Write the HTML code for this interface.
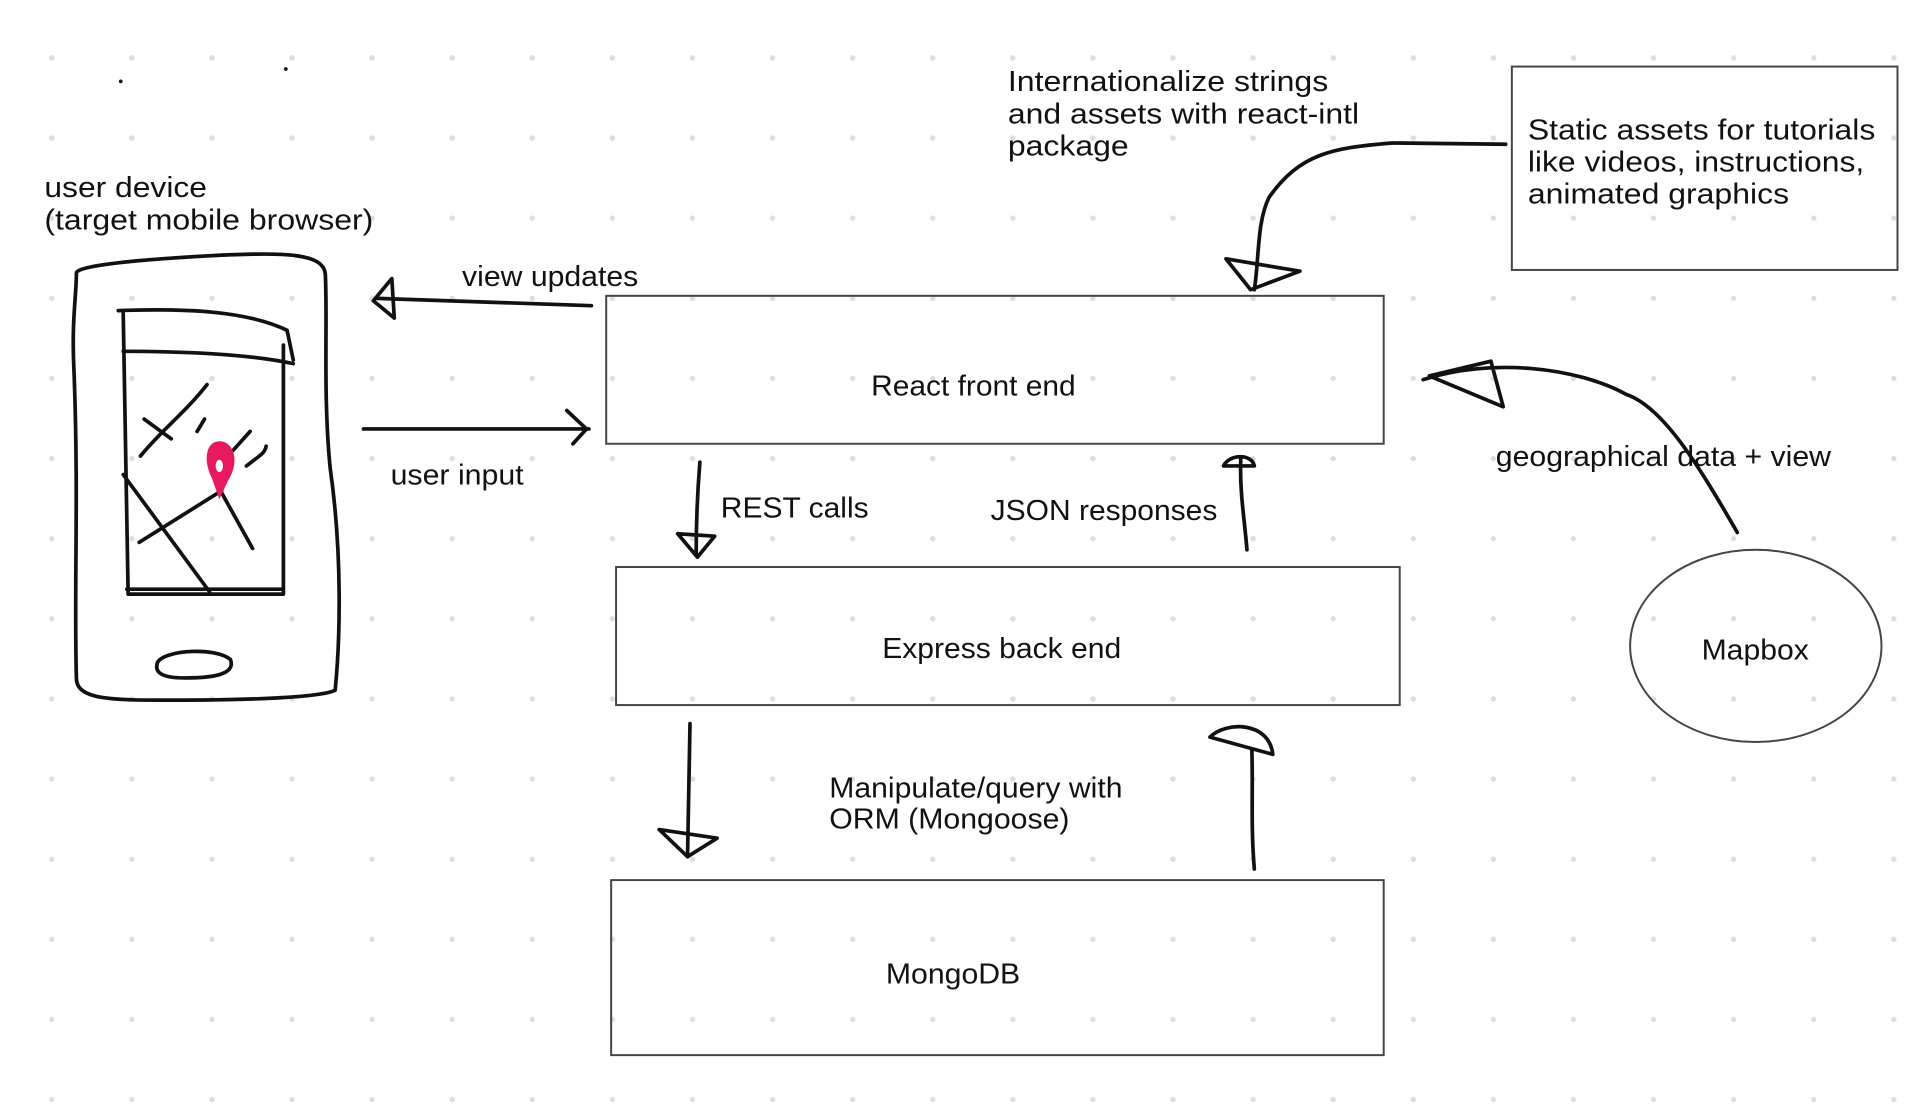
<!DOCTYPE html>
<html><head><meta charset="utf-8"><style>
html,body{margin:0;padding:0;background:#fff}
svg{display:block}
text{font-family:"Liberation Sans",sans-serif;fill:#111}
</style></head><body>
<svg width="1932" height="1118" viewBox="0 0 1568 907" preserveAspectRatio="none" xmlns="http://www.w3.org/2000/svg">
<defs><pattern id="d" x="39" y="44" width="65" height="65" patternUnits="userSpaceOnUse"><circle cx="3" cy="3" r="2.2" fill="#ddd"/></pattern></defs>
<rect width="1568" height="907" fill="#fff"/>
<rect width="1568" height="907" fill="url(#d)"/>
<g fill="none" stroke="#111" stroke-width="3" stroke-linecap="round" stroke-linejoin="round">
<path d="M62,222 C60,215 120,210 180,207 C230,205 262,205 264,222 C266,260 262,320 268,380 C278,450 276,520 272,560 C260,566 200,568 140,568 C90,568 62,568 62,550 C60,480 64,400 60,300 C58,260 62,240 62,222"/>
<path d="M96,252 C150,250 200,252 233,268 L238,292 M100,285 C150,285 200,287 238,295 M100,254 L104,482 L230,482 L230,280 M103,478 L230,478"/>
<path d="M114,370 C130,350 150,335 168,312 M166,340 L160,350 M117,340 L139,356 M203,350 L185,370 M200,378 C210,370 215,368 216,362 M113,440 L180,398 M100,385 L170,480 M180,400 L205,445"/>
<path d="M128,537 C135,527 175,525 187,535 C192,548 170,550 150,550 C130,550 125,545 128,537 Z"/>
</g>
<path d="M178,358 C190,358 195,375 185,390 L178,405 L172,388 C164,372 168,358 178,358 Z" fill="#e8185f"/>
<ellipse cx="178" cy="378" rx="3" ry="5" fill="#fff"/>
<circle cx="98" cy="66" r="1.5" fill="#111"/><circle cx="232" cy="56" r="1.5" fill="#111"/>
<g fill="none" stroke="#444" stroke-width="1.6">
<rect x="492" y="240" width="631" height="120"/>
<rect x="500" y="460" width="636" height="112"/>
<rect x="496" y="714" width="627" height="142"/>
<rect x="1227" y="54" width="313" height="165"/>
<ellipse cx="1425" cy="524" rx="102" ry="78"/>
</g>
<g fill="none" stroke="#111" stroke-width="3" stroke-linecap="round" stroke-linejoin="round">
<path d="M480,248 L305,242 M318,226 L303,244 L320,258 Z"/>
<path d="M295,348 L478,348 M460,333 L476,348 L465,360"/>
<path d="M568,375 C566,400 565,425 565,450 M550,433 L580,435 L566,452 Z"/>
<path d="M1012,446 C1010,420 1006,400 1007,372 M993,378 C998,368 1016,368 1018,378 Z"/>
<path d="M560,587 L558,695 M535,673 L582,680 L558,695 Z"/>
<path d="M1018,705 C1015,670 1017,640 1016,608 M982,598 C995,585 1030,585 1033,612 Z"/>
<path d="M1222,117 L1130,116 C1080,120 1055,125 1030,160 C1020,180 1022,210 1018,235 M995,210 L1055,220 L1015,235 Z"/>
<path d="M1410,432 C1380,380 1350,330 1320,320 C1280,298 1210,290 1155,308 M1210,293 L1220,330 L1160,305 Z"/>
</g>
<g font-size="23" lengthAdjust="spacingAndGlyphs">
<text x="36" y="160" textLength="132" lengthAdjust="spacingAndGlyphs">user device</text>
<text x="36" y="186" textLength="267" lengthAdjust="spacingAndGlyphs">(target mobile browser)</text>
<text x="375" y="232" textLength="143" lengthAdjust="spacingAndGlyphs">view updates</text>
<text x="317" y="393" textLength="108" lengthAdjust="spacingAndGlyphs">user input</text>
<text x="818" y="74" textLength="260" lengthAdjust="spacingAndGlyphs">Internationalize strings</text>
<text x="818" y="100" textLength="285" lengthAdjust="spacingAndGlyphs">and assets with react-intl</text>
<text x="818" y="126" textLength="98" lengthAdjust="spacingAndGlyphs">package</text>
<text x="1240" y="113" textLength="282" lengthAdjust="spacingAndGlyphs">Static assets for tutorials</text>
<text x="1240" y="139" textLength="273" lengthAdjust="spacingAndGlyphs">like videos, instructions,</text>
<text x="1240" y="165" textLength="212" lengthAdjust="spacingAndGlyphs">animated graphics</text>
<text x="707" y="321" textLength="166" lengthAdjust="spacingAndGlyphs">React front end</text>
<text x="585" y="420" textLength="120" lengthAdjust="spacingAndGlyphs">REST calls</text>
<text x="804" y="422" textLength="184" lengthAdjust="spacingAndGlyphs">JSON responses</text>
<text x="1214" y="378" textLength="272" lengthAdjust="spacingAndGlyphs">geographical data + view</text>
<text x="716" y="534" textLength="194" lengthAdjust="spacingAndGlyphs">Express back end</text>
<text x="1381" y="535" textLength="87" lengthAdjust="spacingAndGlyphs">Mapbox</text>
<text x="673" y="647" textLength="238" lengthAdjust="spacingAndGlyphs">Manipulate/query with</text>
<text x="673" y="672" textLength="195" lengthAdjust="spacingAndGlyphs">ORM (Mongoose)</text>
<text x="719" y="798" textLength="109" lengthAdjust="spacingAndGlyphs">MongoDB</text>
</g>
</svg>
</body></html>
